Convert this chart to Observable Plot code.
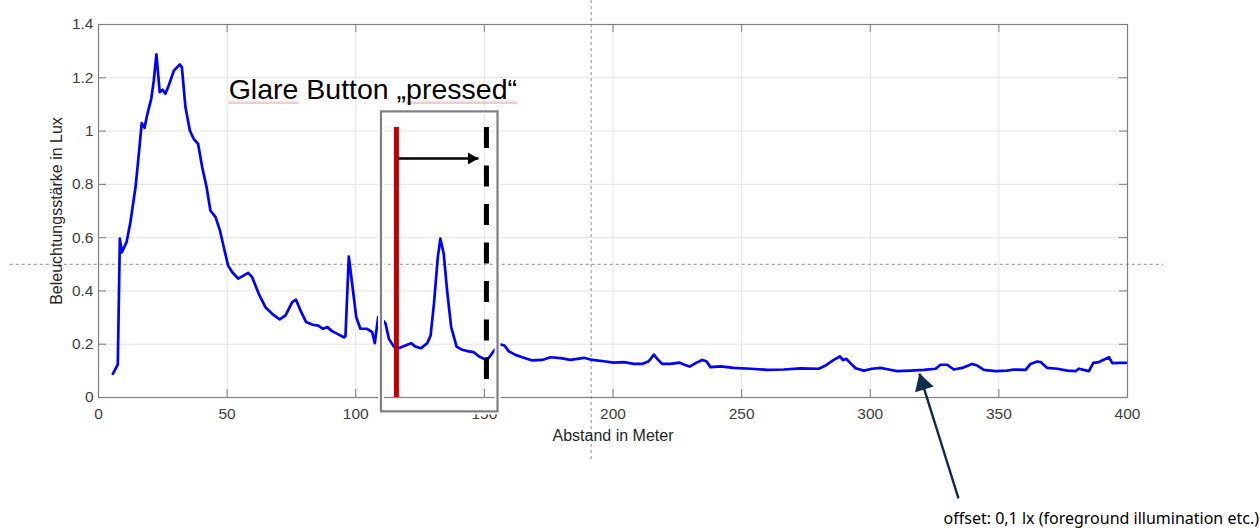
<!DOCTYPE html>
<html><head><meta charset="utf-8">
<script src="https://cdn.jsdelivr.net/npm/d3@7"></script>
<script src="https://cdn.jsdelivr.net/npm/@observablehq/plot@0.6"></script>
<style>html,body{margin:0;padding:0;background:#fff}#chart svg{display:block}</style>
</head><body><div id="chart"></div>
<script>
// Distance in metres
const distance = [5.6,7.5,8.3,9.1,10.9,12.4,14.4,15.3,16.8,17.9,18.9,20.5,21.5,22.5,23.8,24.9,26.0,27.3,29.3,31.6,32.4,33.8,35.5,37.0,38.7,40.3,42.0,43.5,45.5,47.2,48.7,50.4,52.0,54.3,58.2,59.7,62.3,64.9,67.5,70.4,72.7,75.3,76.8,78.5,80.7,83.3,85.4,87.2,88.9,90.8,93.4,95.4,96.0,97.3,98.6,100.2,101.8,104.4,106.4,107.4,108.7,109.4,111.6,112.9,114.8,116.7,119.3,121.5,123.2,125.4,127.8,129.1,130.4,131.9,132.9,134.2,135.5,137.1,139.2,141.4,143.9,145.9,147.8,149.8,151.7,154.3,156.3,157.8,159.5,162.1,164.7,168.6,172.5,175.7,179.6,183.5,188.7,191.9,196.4,200.3,204.2,208.1,211.3,213.9,215.9,217.2,219.1,222.3,225.8,227.5,229.8,232.1,234.7,236.3,237.9,241.8,246.9,253.5,259.9,266.4,272.9,280.0,282.6,285.8,288.2,289.3,290.7,292.3,294.3,297.5,300.7,304.0,307.2,310.5,315.6,320.8,325.4,327.3,329.9,332.5,335.7,339.6,341.6,344.2,348.7,353.2,355.8,360.4,362.3,364.9,366.2,368.8,372.7,376.6,379.8,381.1,385.0,386.7,388.9,392.8,394.1,397.4,399.4];
// Illuminance in lux
const lux = [0.089,0.124,0.596,0.545,0.583,0.658,0.79,0.877,1.03,1.012,1.06,1.121,1.19,1.288,1.146,1.155,1.14,1.171,1.227,1.25,1.24,1.09,1.002,0.971,0.952,0.865,0.79,0.702,0.677,0.627,0.564,0.495,0.47,0.446,0.468,0.452,0.389,0.339,0.314,0.293,0.308,0.358,0.367,0.327,0.283,0.273,0.27,0.258,0.264,0.249,0.236,0.226,0.23,0.529,0.427,0.301,0.258,0.258,0.245,0.204,0.301,0.304,0.277,0.22,0.191,0.185,0.195,0.204,0.191,0.185,0.204,0.233,0.352,0.527,0.596,0.539,0.402,0.264,0.191,0.179,0.173,0.17,0.155,0.145,0.148,0.183,0.199,0.195,0.173,0.16,0.151,0.139,0.141,0.151,0.148,0.141,0.149,0.141,0.136,0.131,0.133,0.126,0.126,0.136,0.161,0.145,0.126,0.126,0.131,0.124,0.116,0.129,0.141,0.136,0.114,0.117,0.111,0.108,0.104,0.105,0.109,0.108,0.12,0.141,0.154,0.141,0.145,0.129,0.11,0.101,0.108,0.111,0.105,0.099,0.101,0.104,0.108,0.123,0.123,0.105,0.111,0.126,0.12,0.104,0.099,0.101,0.105,0.104,0.126,0.135,0.133,0.111,0.108,0.101,0.099,0.108,0.099,0.13,0.133,0.151,0.129,0.13,0.13];

const xTicks = [0,50,100,150,200,250,300,350,400];
const yTicks = [0,0.2,0.4,0.6,0.8,1,1.2,1.4];
const yTickLabels = ["0","0.2","0.4","0.6","0.8","1","1.2","1.4"];
const xLabel = "Abstand in Meter";
const yLabel = "Beleuchtungsstärke in Lux";
const titleText = "Glare Button „pressed“";
// character ranges of the title that carry a spell-check squiggle
const squiggleRanges = [[0, 4], [14, 21]];
const noteText = "offset: 0,1 lx (foreground illumination etc.)";

// annotation geometry in data units
const titlePos = [50.6, 1.155];
const boxX = [110, 155.3];
const boxY = [-0.054, 1.072];
const pressX = [115.8];
const pressY = [0, 1.013];
const releaseX = [150.8];
const releaseY = [1.013, 0.05];
const shiftArrowX = [116.6, 147.7];
const shiftArrowY = [0.897];
const noteArrowTail = [334.3, -0.379];
const noteArrowTip = [319.1, 0.09];
const notePos = [328.5, -0.454];
const guideHY = [0.5];
const guideHX = [-34.3, 414];
const guideVX = [191.5];
const guideVY = [1.49, -0.24];

const frameColor = "#7f7f7f";
const sans = "Liberation Sans, Arial, Helvetica, sans-serif";

const chart = Plot.plot({
  width: 1260,
  height: 528,
  marginTop: 24,
  marginBottom: 131,
  marginLeft: 98,
  marginRight: 133,
  x: {domain: [0, 400]},
  y: {domain: [0, 1.4]},
  style: {fontFamily: sans, background: "#fff", overflow: "visible"},
  marks: [
    Plot.gridX(xTicks, {stroke: "#e4e4e4", strokeOpacity: 1}),
    Plot.gridY(yTicks, {stroke: "#e4e4e4", strokeOpacity: 1}),
    // slide guides
    Plot.ruleY(guideHY, {x1: guideHX[0], x2: guideHX[1], stroke: "#8f8f8f", strokeDasharray: "3,3", strokeWidth: 1}),
    Plot.ruleX(guideVX, {y1: guideVY[0], y2: guideVY[1], stroke: "#8f8f8f", strokeDasharray: "3,3", strokeWidth: 1}),
    Plot.frame({stroke: frameColor, strokeWidth: 1.2}),
    // inward ticks
    Plot.ruleX(xTicks, {y1: 0, y2: 0.03, stroke: frameColor}),
    Plot.ruleX(xTicks, {y1: 1.4, y2: 1.37, stroke: frameColor}),
    Plot.ruleY(yTicks, {x1: 0, x2: 3.1, stroke: frameColor}),
    Plot.ruleY(yTicks, {x1: 400, x2: 396.9, stroke: frameColor}),
    Plot.axisX({ticks: xTicks, tickSize: 0, tickPadding: 10, label: null, fontSize: 15.5, fill: "#404040"}),
    Plot.axisY({ticks: yTicks, tickSize: 0, tickPadding: 5, label: null, fontSize: 15.5, fill: "#404040",
      tickFormat: d => yTickLabels[yTicks.indexOf(d)]}),
    Plot.text([xLabel], {frameAnchor: "bottom", dy: 38, lineAnchor: "middle", textAnchor: "middle", fontSize: 16, fill: "#262626"}),
    Plot.text([yLabel], {frameAnchor: "left", rotate: -90, dx: -41.5, lineAnchor: "middle", textAnchor: "middle", fontSize: 16, fill: "#262626"}),
    // data
    Plot.line(distance, {x: distance, y: lux, stroke: "#0000ff", strokeWidth: 2.7, strokeLinejoin: "round"}),
    // annotation box (white halo + grey outline)
    Plot.rect([0], {x1: boxX[0], x2: boxX[1], y1: boxY[0], y2: boxY[1], fill: "none", stroke: "#fff", strokeWidth: 6}),
    Plot.rect([0], {x1: boxX[0], x2: boxX[1], y1: boxY[0], y2: boxY[1], fill: "none", stroke: "#7f7f7f", strokeWidth: 2.2}),
    Plot.ruleX(pressX, {y1: pressY[0], y2: pressY[1], stroke: "#c00000", strokeWidth: 5}),
    Plot.ruleX(releaseX, {y1: releaseY[0], y2: releaseY[1], stroke: "#000", strokeWidth: 5, strokeDasharray: "21,17.5"}),
    Plot.link([0], {x1: shiftArrowX[0], x2: shiftArrowX[1], y1: shiftArrowY[0], y2: shiftArrowY[0], stroke: "#000", strokeWidth: 2.6}),
    Plot.dot([0], {x: shiftArrowX[1], y: shiftArrowY[0], symbol: "triangle", r: 4.5, fill: "#000", stroke: "none", rotate: 90, dx: -7}),
    Plot.text([titleText], {x: titlePos[0], y: titlePos[1], textAnchor: "start", lineAnchor: "middle", fontSize: 28.5, fill: "#000", className: "glare-title"}),
    // offset note arrow
    Plot.link([0], {x1: noteArrowTail[0], y1: noteArrowTail[1], x2: noteArrowTip[0], y2: noteArrowTip[1], stroke: "#112b4d", strokeWidth: 2.4}),
    Plot.dot([0], {x: noteArrowTip[0], y: noteArrowTip[1], symbol: "triangle", r: 7.2, fill: "#112b4d", stroke: "none", rotate: -17.3, dx: 3.3, dy: 10.4}),
    Plot.text([noteText], {x: notePos[0], y: notePos[1], textAnchor: "start", lineAnchor: "middle", fontSize: 16, fontFamily: "Noto Sans", fill: "#000"})
  ]
});
document.getElementById("chart").appendChild(chart);

// spell-check style red wavy underlines under "Glare" and "pressed"
const svg = d3.select(chart);
const defs = svg.append("defs");
const pat = defs.append("pattern").attr("id", "spellwave").attr("patternUnits", "userSpaceOnUse")
  .attr("width", 4).attr("height", 3);
pat.append("path").attr("d", "M0,2.5L1,1.5L2,0.5L3,1.5L4,2.5").attr("fill", "none")
  .attr("stroke", "#e03a3a").attr("stroke-width", 0.9);
svg.selectAll(".glare-title text").each(function() {
  const t = this;
  const fs = 28.5;
  ranges: for (const [a, b] of squiggleRanges) {
    const ea = t.getExtentOfChar(a), eb = t.getExtentOfChar(b);
    const baseline = ea.y + 0.905 * (ea.height / 1.117);
    const r = document.createElementNS("http://www.w3.org/2000/svg", "rect");
    r.setAttribute("x", ea.x);
    r.setAttribute("width", eb.x + eb.width - ea.x);
    r.setAttribute("y", baseline + 2);
    r.setAttribute("height", 3);
    r.setAttribute("fill", "url(#spellwave)");
    const tr = t.getAttribute("transform");
    if (tr) r.setAttribute("transform", tr);
    t.parentNode.insertBefore(r, t);
  }
});
</script>
</body></html>
